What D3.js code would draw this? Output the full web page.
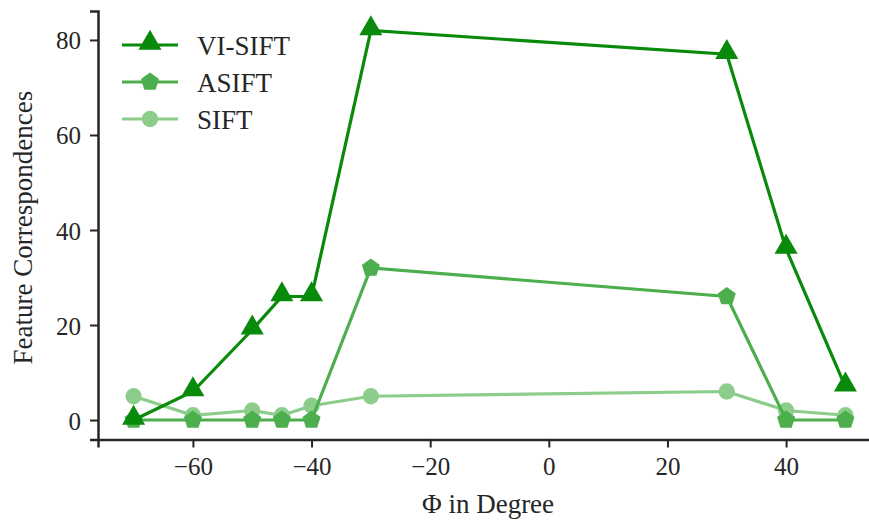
<!DOCTYPE html>
<html>
<head>
<meta charset="utf-8">
<script src="https://cdn.jsdelivr.net/npm/d3@7"></script>
<style>
  body { margin: 0; background: #fff; }
</style>
</head>
<body>
<div id="chart"></div>
<script>
// data
const phi = [-70, -60, -50, -45, -40, -30, 30, 40, 50];
const viSift = [0, 6, 19, 26, 26, 82, 77, 36, 7];
const aSift = [0, 0, 0, 0, 0, 32, 26, 0, 0];
const sift = [5, 1, 2, 1, 3, 5, 6, 2, 1];
const xTicks = [-60, -40, -20, 0, 20, 40];
const yTicks = [0, 20, 40, 60, 80];

const series = [
  { name: "SIFT", values: sift, color: "#8ccd8c", marker: "circle" },
  { name: "ASIFT", values: aSift, color: "#4cae4c", marker: "pentagon" },
  { name: "VI-SIFT", values: viSift, color: "#0a8a0a", marker: "triangle" }
];

const serif = "'Liberation Serif', 'Times New Roman', serif";
const width = 869, height = 525;
const x = d3.scaleLinear().domain([-76, 56]).range([98, 881]);
const y = d3.scaleLinear().domain([-4.1, 86.1]).range([439.5, 11]);

const svg = d3.select("#chart").append("svg")
  .attr("width", width)
  .attr("height", height);

// axes
const xAxis = svg.append("g")
  .attr("transform", "translate(0," + y.range()[0] + ")")
  .call(d3.axisBottom(x).tickValues(xTicks).tickSizeOuter(0).tickSize(8).tickPadding(10));
const yAxis = svg.append("g")
  .attr("transform", "translate(" + x.range()[0] + ",0)")
  .call(d3.axisLeft(y).tickValues(yTicks).tickSizeOuter(0).tickSize(8).tickPadding(9));

[xAxis, yAxis].forEach(function(g) {
  g.attr("font-family", serif).attr("font-size", 25);
  g.select(".domain").attr("stroke", "#262626").attr("stroke-width", 2.5);
  g.selectAll(".tick line").attr("stroke", "#262626").attr("stroke-width", 2);
  g.selectAll(".tick text")
    .attr("fill", "#262626")
    .style("font-family", serif)
    .style("font-size", "25px");
});
yAxis.selectAll(".tick text").attr("dy", "0.36em");

// axis labels
svg.append("text")
  .attr("x", 488)
  .attr("y", 513)
  .attr("text-anchor", "middle")
  .attr("fill", "#262626")
  .style("font-family", serif)
  .style("font-size", "27px")
  .text("Φ in Degree");

svg.append("text")
  .attr("transform", "translate(32," + y(40.5) + ") rotate(-90)")
  .attr("text-anchor", "middle")
  .attr("fill", "#262626")
  .style("font-family", serif)
  .style("font-size", "27px")
  .text("Feature Correspondences");

function markerPath(type) {
  if (type === "triangle") return d3.symbol().type(d3.symbolTriangle).size(230)();
  if (type === "circle") return d3.symbol().type(d3.symbolCircle).size(210)();
  // pentagon
  const r = 9.5;
  const pts = d3.range(5).map(function(i) {
    const a = -Math.PI / 2 + i * 2 * Math.PI / 5;
    return [r * Math.cos(a), r * Math.sin(a)];
  });
  return "M" + pts.map(p => p.join(",")).join("L") + "Z";
}

const line = d3.line().x(d => x(d[0])).y(d => y(d[1]));

series.forEach(function(s) {
  const pts = phi.map((p, i) => [p, s.values[i]]);
  svg.append("path")
    .datum(pts)
    .attr("fill", "none")
    .attr("stroke", s.color)
    .attr("stroke-width", 3.2)
    .attr("d", line);
  svg.selectAll(null)
    .data(pts)
    .enter().append("path")
    .attr("transform", d => "translate(" + x(d[0]) + "," + (y(d[1]) + (s.marker === "triangle" ? -2 : 0)) + ")")
    .attr("d", markerPath(s.marker))
    .attr("fill", s.color);
});

// legend
const legend = svg.append("g").attr("transform", "translate(122,45)");
series.slice().reverse().forEach(function(s, i) {
  const g = legend.append("g").attr("transform", "translate(0," + (i * 37) + ")");
  g.append("line")
    .attr("x1", 0).attr("x2", 56)
    .attr("stroke", s.color).attr("stroke-width", 3.2);
  g.append("path")
    .attr("transform", "translate(28," + (s.marker === "triangle" ? -2 : 0) + ")")
    .attr("d", markerPath(s.marker))
    .attr("fill", s.color);
  g.append("text")
    .attr("x", 75).attr("y", 10)
    .attr("fill", "#262626")
    .style("font-family", serif)
    .style("font-size", "27px")
    .text(s.name);
});
</script>
</body>
</html>
